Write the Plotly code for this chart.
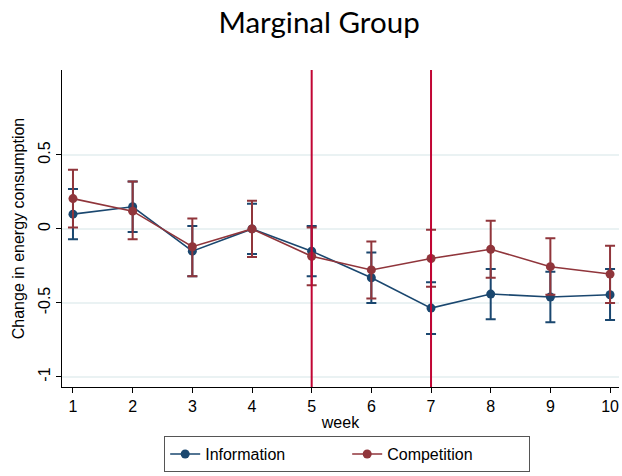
import plotly.graph_objects as go

# Weekly change in energy consumption with 95% confidence bounds
weeks = [1, 2, 3, 4, 5, 6, 7, 8, 9, 10]

info_mean = [0.10, 0.15, -0.15, 0.00, -0.15, -0.33, -0.535, -0.44, -0.46, -0.445]
info_low = [-0.07, -0.02, -0.32, -0.17, -0.32, -0.50, -0.71, -0.61, -0.63, -0.615]
info_high = [0.27, 0.32, 0.02, 0.17, 0.02, -0.16, -0.36, -0.27, -0.29, -0.27]

comp_mean = [0.205, 0.12, -0.12, 0.00, -0.185, -0.277, -0.20, -0.137, -0.255, -0.305]
comp_low = [0.01, -0.07, -0.32, -0.19, -0.38, -0.47, -0.39, -0.33, -0.445, -0.50]
comp_high = [0.40, 0.32, 0.07, 0.19, 0.01, -0.085, -0.005, 0.055, -0.063, -0.113]

event_weeks = [5, 7]

y_ticks = [-1, -0.5, 0, 0.5]
y_tick_text = ["-1", "-0.5", "0", "0.5"]

INFO_COLOR = "#1a476f"
COMP_COLOR = "#90353b"
EVENT_COLOR = "#c10534"
FONT = "Liberation Sans, Arial, sans-serif"
TITLE_FONT = "Lato, Open Sans, sans-serif"


def series(name, mean, low, high, color):
    return go.Scatter(
        x=weeks,
        y=mean,
        name=name,
        mode="lines+markers",
        line=dict(color=color, width=1.6),
        marker=dict(color=color, size=9),
        error_y=dict(
            type="data",
            symmetric=False,
            array=[h - m for h, m in zip(high, mean)],
            arrayminus=[m - l for m, l in zip(mean, low)],
            color=color,
            thickness=2,
            width=5,
        ),
    )


fig = go.Figure()
fig.add_trace(series("Information", info_mean, info_low, info_high, INFO_COLOR))
fig.add_trace(series("Competition", comp_mean, comp_low, comp_high, COMP_COLOR))

for wk in event_weeks:
    fig.add_shape(
        type="line", xref="x", yref="paper", x0=wk, x1=wk, y0=0, y1=1,
        line=dict(color=EVENT_COLOR, width=2), layer="above",
    )

fig.update_layout(
    width=622,
    height=476,
    margin=dict(l=62, r=3, t=70, b=89),
    paper_bgcolor="white",
    plot_bgcolor="white",
    font=dict(family=FONT, color="#000000", size=16),
    title=dict(
        text="Marginal Group",
        x=0.513, xanchor="center", xref="container",
        y=0.953, yanchor="middle",
        font=dict(size=29.5, family=TITLE_FONT),
    ),
    showlegend=True,
    legend=dict(
        orientation="h",
        x=0.512, xanchor="center",
        y=-0.155, yanchor="top",
        bordercolor="#555555",
        borderwidth=1,
        font=dict(size=16),
        entrywidth=137,
        entrywidthmode="pixels",
        tracegroupgap=0,
    ),
)

fig.update_xaxes(
    range=[0.816, 10.15],
    tickvals=weeks,
    ticks="outside",
    ticklen=5,
    tickcolor="#000",
    showline=True,
    linecolor="#000",
    linewidth=1,
    showgrid=False,
    zeroline=False,
    title=dict(text="week", font=dict(size=16), standoff=2),
    tickfont=dict(size=16),
)

fig.update_yaxes(
    range=[-1.068, 1.074],
    tickvals=y_ticks,
    ticktext=y_tick_text,
    tickangle=-90,
    ticks="outside",
    ticklen=5,
    tickcolor="#000",
    showline=True,
    linecolor="#000",
    linewidth=1,
    showgrid=True,
    gridcolor="#eaf2f3",
    gridwidth=1.5,
    zeroline=False,
    title=dict(text="Change in energy consumption", font=dict(size=16), standoff=6),
    tickfont=dict(size=16),
)

fig.write_html("out.html")
